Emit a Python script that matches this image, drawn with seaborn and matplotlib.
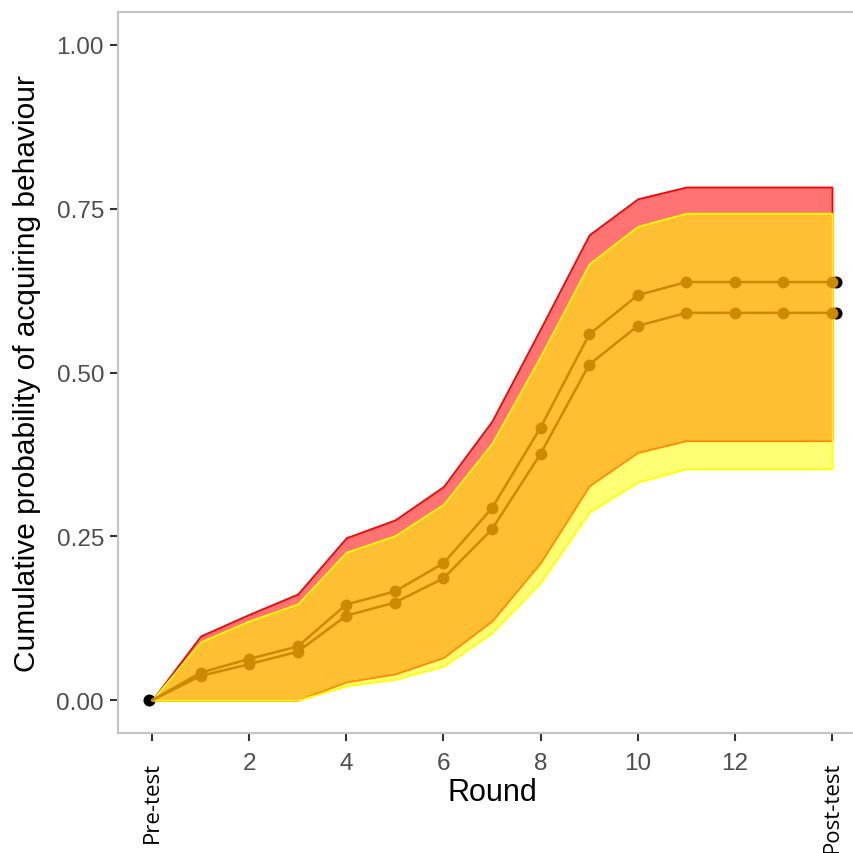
import numpy as np
import pandas as pd
import matplotlib
matplotlib.use("Agg")
import matplotlib.pyplot as plt
import matplotlib.transforms as mtransforms
import seaborn as sns

# Rounds: 0 = pre-test, 14 = post-test
rounds = list(range(15))
tick_rounds = [2, 4, 6, 8, 10, 12]
end_labels = ["Pre-test", "Post-test"]

# Model estimates of cumulative acquisition probability
prob_a = [0, 0.042, 0.063, 0.082, 0.146, 0.166, 0.209, 0.293, 0.416, 0.558,
          0.618, 0.638, 0.638, 0.638, 0.638]
prob_b = [0, 0.037, 0.055, 0.074, 0.129, 0.149, 0.186, 0.261, 0.376, 0.512,
          0.571, 0.591, 0.591, 0.591, 0.591]

# Credible intervals
ci_a_upper = [0, 0.098, 0.131, 0.162, 0.248, 0.275, 0.326, 0.426, 0.567, 0.710,
              0.765, 0.783, 0.783, 0.783, 0.783]
ci_a_lower = [0, 0, 0, 0, 0.028, 0.040, 0.065, 0.121, 0.210, 0.327,
              0.378, 0.396, 0.396, 0.396, 0.396]
ci_b_upper = [0, 0.089, 0.121, 0.147, 0.226, 0.251, 0.299, 0.392, 0.525, 0.666,
              0.723, 0.743, 0.743, 0.743, 0.743]
ci_b_lower = [0, 0, 0, 0, 0.022, 0.032, 0.052, 0.103, 0.180, 0.287,
              0.333, 0.353, 0.353, 0.353, 0.353]

# Observed values at pre-test and post-test
obs_round = [0, 14, 14]
obs_prob = [0, 0.638, 0.591]

df = pd.DataFrame({
    "Round": rounds * 2,
    "prob": prob_a + prob_b,
    "group": ["a"] * len(rounds) + ["b"] * len(rounds),
})

sns.set_theme(style="white")
plt.rcParams["font.family"] = ["Liberation Sans", "DejaVu Sans"]

fig = plt.figure(figsize=(8.54, 8.54), dpi=100)
ax = fig.add_axes([118 / 854, 120 / 854, (866 - 118) / 854, (841 - 120) / 854])

# Observed points, nudged slightly off the round position
for xv, yv in zip(obs_round, obs_prob):
    dx = -2 / 72 if xv == 0 else 3 / 72
    tr = ax.transData + mtransforms.ScaledTranslation(dx, 0, fig.dpi_scale_trans)
    ax.scatter([xv], [yv], s=75, color="black", zorder=1, transform=tr, linewidths=0)

# Interval ribbons
ax.fill_between(rounds, ci_a_lower, ci_a_upper, facecolor=(1, 0, 0, 0.55),
                edgecolor="#FF0000", linewidth=1.3, zorder=2)
ax.fill_between(rounds, ci_b_lower, ci_b_upper, facecolor=(1, 1, 0, 0.55),
                edgecolor="#FFFF00", linewidth=1.3, zorder=3)

gold = "#CB8A00"
sns.lineplot(data=df, x="Round", y="prob", units="group", estimator=None,
             color=gold, linewidth=1.8, marker="o", markersize=8.5,
             markeredgewidth=0, markevery=list(range(1, 15)), ax=ax, zorder=4)

ax.set_xlim(-0.7, 14.7)
ax.set_ylim(-0.05, 1.05)
ax.set_yticks([0, 0.25, 0.5, 0.75, 1.0])
ax.set_yticklabels(["0.00", "0.25", "0.50", "0.75", "1.00"])
ax.set_xticks([0] + tick_rounds + [14])
ax.set_xticklabels([""] + [str(t) for t in tick_rounds] + [""])

ax.tick_params(axis="both", which="major", length=6, width=1.5, color="#333333",
               labelsize=17.5, labelcolor="#4D4D4D", pad=4, bottom=True, left=True)
ax.tick_params(axis="x", pad=8)

for side in ["left", "top", "bottom"]:
    ax.spines[side].set_color("#C4C4C4")
    ax.spines[side].set_linewidth(1.5)
ax.spines["right"].set_visible(False)

ax.set_xlabel("Round", fontsize=22, color="black")
ax.xaxis.set_label_coords(0.5, -0.082)
ax.xaxis.label.set_va("center")
ax.set_ylabel("Cumulative probability of acquiring behaviour", fontsize=21.5,
              color="black")
ax.yaxis.set_label_coords(-0.122, 0.5)
ax.yaxis.label.set_va("center")

# Rotated end labels under the first and last rounds
for xv, lab in zip([0, 14], end_labels):
    ax.text(xv, -0.038, lab, rotation=90, ha="center", va="top",
            fontsize=16, family=["Open Sans", "DejaVu Sans"], color="black",
            transform=ax.get_xaxis_transform(), clip_on=False)

fig.savefig("out.png", dpi=100)
